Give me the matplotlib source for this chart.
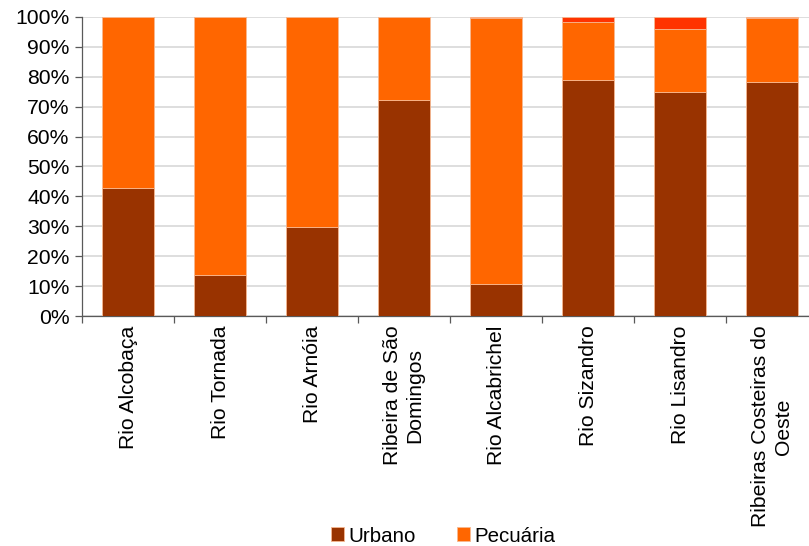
import matplotlib
matplotlib.use("Agg")
import matplotlib.pyplot as plt
import numpy as np
from matplotlib.ticker import PercentFormatter, FixedLocator

plt.rcParams["font.family"] = ["Liberation Sans", "DejaVu Sans"]

# categorias e valores (%)
BACIAS = ["Rio Alcobaça", "Rio Tornada", "Rio Arnóia", "Ribeira de São\nDomingos",
          "Rio Alcabrichel", "Rio Sizandro", "Rio Lisandro", "Ribeiras Costeiras do\nOeste"]
URBANO = [42.8, 13.6, 29.8, 72.3, 10.8, 78.8, 74.8, 78.4]
PECUARIA = [57.2, 86.3, 70.2, 27.7, 88.8, 19.5, 21.3, 21.3]
OUTROS = [0.0, 0.1, 0.0, 0.0, 0.4, 1.7, 3.9, 0.3]

C_URB = "#993300"; C_PEC = "#FF6600"; C_OUT = "#FF3300"
EDGE = "#F7B890"; GRID = "#D4D4D4"; AXC = "#595959"

fig = plt.figure(figsize=(8.09, 5.46), dpi=100)
ax = fig.add_axes([82 / 809, 230 / 546, 736 / 809, 299 / 546])

x = np.arange(len(BACIAS))
w = 0.555
urb = np.array(URBANO)
pec = np.array(PECUARIA)
ax.bar(x, urb, w, color=C_URB, edgecolor=EDGE, linewidth=0.6, label="Urbano", zorder=3)
ax.bar(x, pec, w, bottom=urb, color=C_PEC, edgecolor=EDGE, linewidth=0.6, label="Pecuária", zorder=3)
ax.bar(x, OUTROS, w, bottom=urb + pec, color=C_OUT, edgecolor=EDGE, linewidth=0.6,
       label="_nolegend_", zorder=3)

ax.set_xlim(-0.5, len(BACIAS) - 0.5)
ax.set_ylim(0, 100)
ax.set_yticks(np.arange(0, 101, 10))
ax.yaxis.set_major_formatter(PercentFormatter(decimals=0))
ax.grid(axis="y", color=GRID, linewidth=1.1, zorder=0)

ax.set_xticks(x)
ax.set_xticklabels(BACIAS, rotation=90, ha="center", va="top", multialignment="center")
ax.xaxis.set_minor_locator(FixedLocator(np.arange(-0.5, len(BACIAS), 1.0)))
ax.tick_params(axis="x", which="major", length=0, pad=7, labelsize=15.2)
ax.tick_params(axis="x", which="minor", length=5, width=0.9, color=AXC)
ax.tick_params(axis="y", length=5, width=0.9, color=AXC, labelsize=15.2, pad=4)

for s in ("top", "right"):
    ax.spines[s].set_visible(False)
for s in ("left", "bottom"):
    ax.spines[s].set_color(AXC)
    ax.spines[s].set_linewidth(0.9)

fig.legend(loc="center", bbox_to_anchor=(443 / 809, 10 / 546), ncol=2, frameon=False,
           fontsize=14.8, handlelength=0.65, handleheight=0.65, handletextpad=0.2,
           columnspacing=2.0, borderaxespad=0)

fig.savefig("out.png", dpi=100)
